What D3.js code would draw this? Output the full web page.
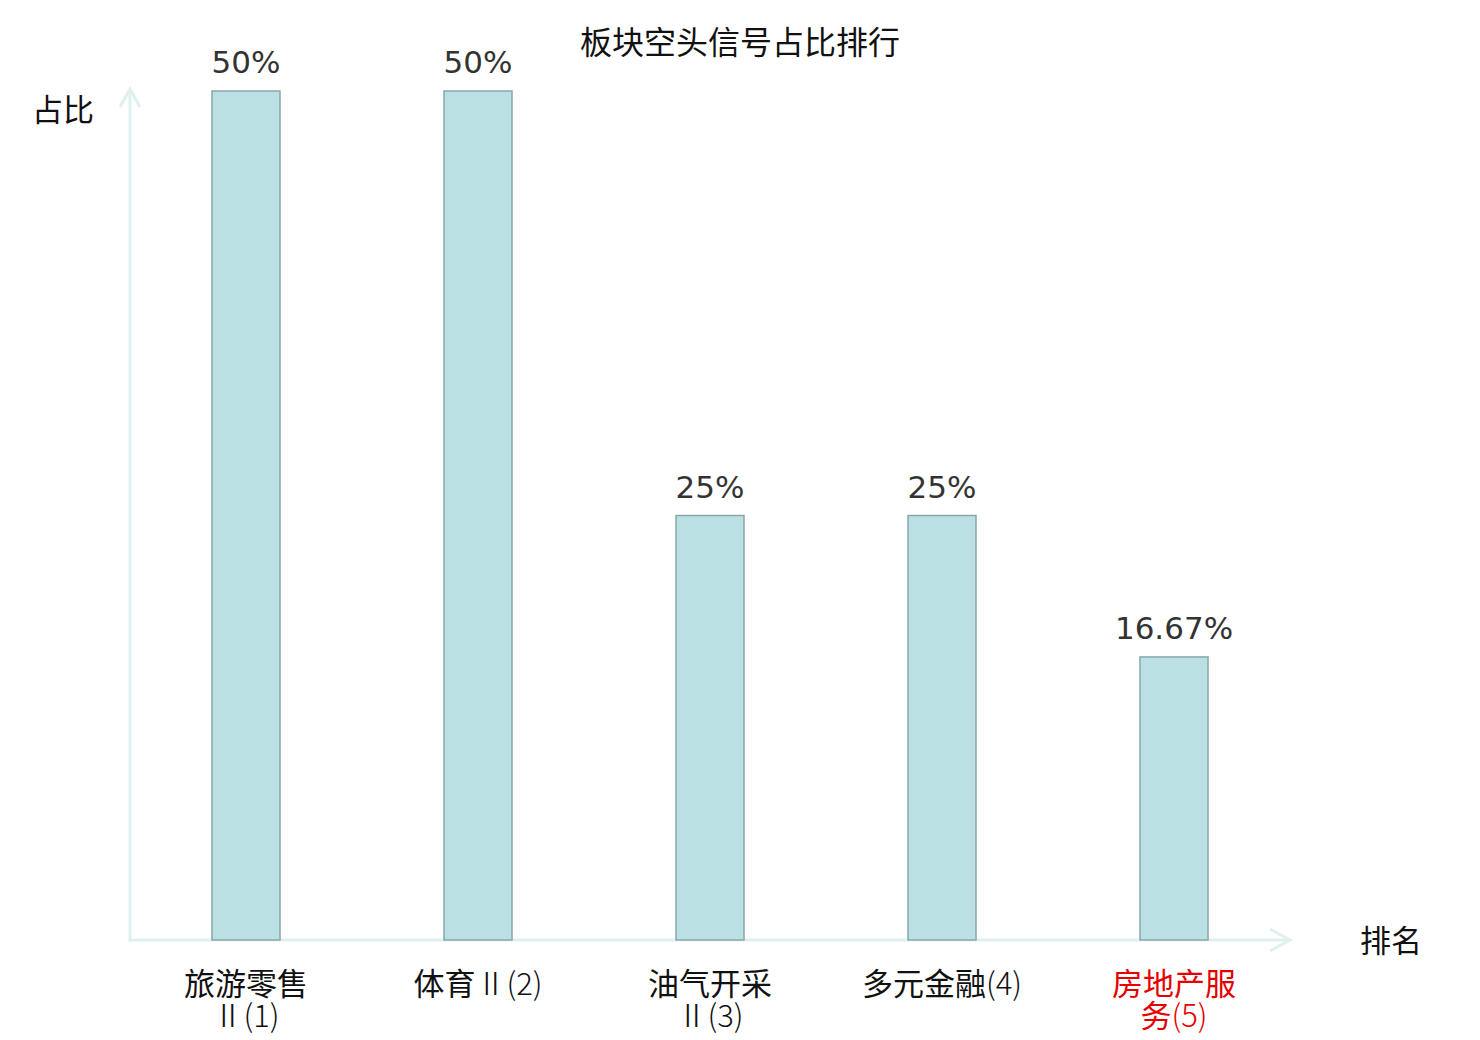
<!DOCTYPE html>
<html><head><meta charset="utf-8">
<script src="https://cdn.jsdelivr.net/npm/d3@7/dist/d3.min.js"></script>
<style>html,body{margin:0;padding:0;background:#fff;}svg{display:block;}</style>
</head><body>
<svg id="chart" width="1480" height="1040"></svg>
<script>
const categories = ["旅游零售Ⅱ(1)", "体育Ⅱ(2)", "油气开采Ⅱ(3)", "多元金融(4)", "房地产服务(5)"];
const labelLines = [["旅游零售", "Ⅱ(1)"], ["体育Ⅱ(2)"], ["油气开采", "Ⅱ(3)"], ["多元金融(4)"], ["房地产服", "务(5)"]];
const values = [50, 50, 25, 25, 16.67];
const valueLabels = ["50%", "50%", "25%", "25%", "16.67%"];
const highlighted = [false, false, false, false, true];
const titleText = "板块空头信号占比排行";
const yAxisName = "占比";
const xAxisName = "排名";

const svg = d3.select("#chart");
const x0 = 130, x1 = 1290, yBase = 940;
const cjk = "'Noto Sans CJK SC', 'Noto Sans', sans-serif";

const x = d3.scaleBand().domain(categories).range([x0, x1]).paddingInner(0.7069).paddingOuter(0.3534);
const y = d3.scaleLinear().domain([0, 50]).range([yBase, 91]);

// axes
const axisColor = "#dff1ee";
svg.append("line").attr("x1", x0).attr("x2", x0).attr("y1", yBase + 1.5).attr("y2", 89)
  .attr("stroke", axisColor).attr("stroke-width", 3);
svg.append("path").attr("d", `M${x0-10},107 L${x0},89 L${x0+10},107`)
  .attr("fill", "none").attr("stroke", axisColor).attr("stroke-width", 3);
svg.append("line").attr("x1", x0 - 1.5).attr("x2", x1).attr("y1", yBase).attr("y2", yBase)
  .attr("stroke", axisColor).attr("stroke-width", 3);
svg.append("path").attr("d", `M${x1-20},929 L${x1},${yBase} L${x1-20},951`)
  .attr("fill", "none").attr("stroke", axisColor).attr("stroke-width", 3);

// bars
svg.selectAll("rect.bar").data(values).join("rect").attr("class", "bar")
  .attr("x", (d, i) => x(categories[i]))
  .attr("y", d => y(d))
  .attr("width", x.bandwidth())
  .attr("height", d => yBase - y(d))
  .attr("fill", "#bbe0e3")
  .attr("stroke", "#89a6a8")
  .attr("stroke-width", 1.5);

// value labels
svg.selectAll("text.val").data(values).join("text").attr("class", "val")
  .attr("x", (d, i) => x(categories[i]) + x.bandwidth() / 2)
  .attr("y", d => y(d) - 18)
  .attr("text-anchor", "middle")
  .attr("font-family", "'DejaVu Sans', sans-serif")
  .attr("font-size", 31)
  .attr("fill", "#333")
  .text((d, i) => valueLabels[i]);

// category labels (one text element per line; latin parts in light weight)
function addSegments(t, str) {
  const runs = [];
  for (const ch of str) {
    const type = (ch === "Ⅱ" || /[\x00-\x7f]/.test(ch)) ? "l" : "c";
    if (runs.length && runs[runs.length - 1].type === type) runs[runs.length - 1].s += ch;
    else runs.push({ type, s: ch });
  }
  runs.forEach(r => {
    const sp = t.append("tspan").text(r.s);
    if (r.type === "l") sp.attr("font-weight", 300);
  });
}
categories.forEach((c, i) => {
  labelLines[i].forEach((ln, j) => {
    const t = svg.append("text")
      .attr("x", x(c) + x.bandwidth() / 2)
      .attr("y", 995 + j * 32)
      .attr("text-anchor", "middle")
      .attr("font-family", cjk)
      .attr("font-size", 31)
      .attr("fill", highlighted[i] ? "#e60000" : "#111");
    addSegments(t, ln);
  });
});

// axis names
svg.append("text").attr("x", 63).attr("y", 121).attr("text-anchor", "middle")
  .attr("font-family", cjk).attr("font-size", 31).attr("fill", "#111").text(yAxisName);
svg.append("text").attr("x", 1391).attr("y", 952).attr("text-anchor", "middle")
  .attr("font-family", cjk).attr("font-size", 31).attr("fill", "#111").text(xAxisName);

// title
svg.append("text").attr("x", 740).attr("y", 54).attr("text-anchor", "middle")
  .attr("font-family", cjk).attr("font-size", 32).attr("fill", "#111").text(titleText);
</script>
</body></html>
